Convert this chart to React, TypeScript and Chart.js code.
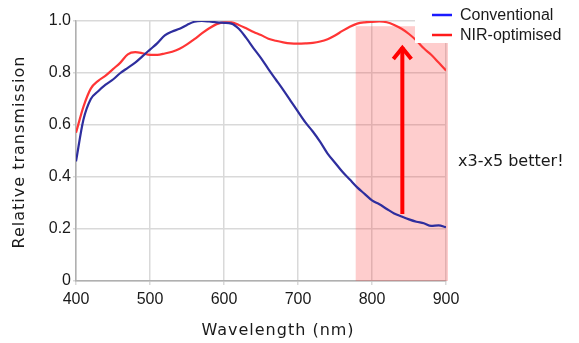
import React, { useEffect, useRef } from "react";
import { Chart, registerables } from "chart.js";

Chart.register(...registerables);

const wavelengths = [
  400, 410, 420, 430, 440, 450, 460, 470, 480, 490,
  500, 510, 520, 530, 540, 550, 560, 570, 580, 590,
  600, 610, 620, 630, 640, 650, 660, 670, 680, 690,
  700, 710, 720, 730, 740, 750, 760, 770, 780, 790,
  800, 810, 820, 830, 840, 850, 860, 870, 880, 890, 900,
];

const conventional = [
  0.46, 0.62, 0.70, 0.73, 0.755, 0.775, 0.80, 0.82, 0.84, 0.865,
  0.89, 0.915, 0.945, 0.96, 0.97, 0.985, 0.997, 1.0, 0.998, 0.995,
  0.993, 0.99, 0.97, 0.935, 0.895, 0.857, 0.815, 0.775, 0.735, 0.693,
  0.651, 0.61, 0.575, 0.535, 0.49, 0.455, 0.42, 0.39, 0.36, 0.335,
  0.31, 0.295, 0.277, 0.26, 0.248, 0.237, 0.228, 0.222, 0.212, 0.214, 0.207,
];

const nirOptimised = [
  0.57, 0.67, 0.74, 0.77, 0.79, 0.815, 0.84, 0.872, 0.88, 0.876,
  0.87, 0.87, 0.875, 0.882, 0.893, 0.91, 0.93, 0.952, 0.972, 0.988,
  0.995, 0.995, 0.985, 0.972, 0.958, 0.946, 0.932, 0.924, 0.918, 0.914,
  0.913, 0.914, 0.916, 0.921, 0.93, 0.944, 0.962, 0.978, 0.99, 0.995,
  0.997, 0.998, 0.995, 0.985, 0.97, 0.95, 0.925, 0.895, 0.87, 0.84, 0.81,
];

const seriesNames = ["Conventional", "NIR-optimised"];
const xTicks = [400, 500, 600, 700, 800, 900];
const yTicks = [0, 0.2, 0.4, 0.6, 0.8, 1.0];

const shadeStart = 778;
const shadeEnd = 900;
const shadeTop = 0.98;
const arrowX = 841;
const arrowFrom = 0.258;
const arrowTo = 0.908;
const annotationText = "x3-x5 better!";
const xTitle = "Wavelength (nm)";
const yTitle = "Relative transmission";

const lineColors = ["#2e2e9e", "#ff3535"];
const legendColors = ["#1a1aff", "#ff1a1a"];

export default function App() {
  const ref = useRef<HTMLCanvasElement | null>(null);

  useEffect(() => {
    document.body.style.margin = "0";
    document.body.style.overflow = "hidden";
    const canvas = ref.current;
    if (!canvas) return;

    const overlay = {
      id: "overlay",
      beforeDatasetsDraw(chart: any) {
        const { ctx, scales } = chart;
        const x = scales.x;
        const y = scales.y;
        ctx.save();
        ctx.fillStyle = "rgba(250, 55, 55, 0.25)";
        const x0 = x.getPixelForValue(shadeStart);
        const x1 = x.getPixelForValue(shadeEnd) + 2;
        const y0 = y.getPixelForValue(shadeTop);
        const y1 = y.getPixelForValue(0);
        ctx.fillRect(x0, y0, x1 - x0, y1 - y0);
        ctx.restore();
      },
      afterDatasetsDraw(chart: any) {
        const { ctx, scales } = chart;
        const x = scales.x;
        const y = scales.y;
        const ax = x.getPixelForValue(arrowX);
        const yb = y.getPixelForValue(arrowFrom);
        const yt = y.getPixelForValue(arrowTo);
        ctx.save();
        ctx.strokeStyle = "#ff0000";
        ctx.lineWidth = 4;
        ctx.lineCap = "butt";
        ctx.beginPath();
        ctx.moveTo(ax, yb);
        ctx.lineTo(ax, yt + 2);
        ctx.stroke();
        ctx.lineJoin = "miter";
        ctx.beginPath();
        ctx.moveTo(ax - 9, yt + 14);
        ctx.lineTo(ax, yt + 3);
        ctx.lineTo(ax + 9, yt + 14);
        ctx.stroke();
        ctx.restore();
      },
      afterDraw(chart: any) {
        const { ctx } = chart;
        ctx.save();
        ctx.fillStyle = "#ffffff";
        ctx.fillRect(415, 0, 164, 43);
        const rows = [15, 35];
        seriesNames.forEach((name, i) => {
          ctx.strokeStyle = legendColors[i];
          ctx.lineWidth = 2.5;
          ctx.beginPath();
          ctx.moveTo(432, rows[i]);
          ctx.lineTo(452, rows[i]);
          ctx.stroke();
          ctx.fillStyle = "#1a1a1a";
          ctx.font = "16px 'Liberation Sans', Arial, sans-serif";
          ctx.textAlign = "left";
          ctx.textBaseline = "middle";
          ctx.fillText(name, 460, rows[i] + 1);
        });
        ctx.font = "16px 'DejaVu Sans', sans-serif";
        ctx.fillStyle = "#1a1a1a";
        ctx.textAlign = "left";
        ctx.textBaseline = "middle";
        ctx.fillText(annotationText, 458, 162);
        (ctx as any).letterSpacing = "1px";
        ctx.textAlign = "center";
        ctx.fillText(xTitle, 278, 331);
        ctx.translate(20, 152);
        ctx.rotate(-Math.PI / 2);
        ctx.fillText(yTitle, 0, 0);
        ctx.restore();
      },
    };

    const chart = new Chart(canvas, {
      type: "line",
      data: {
        labels: wavelengths,
        datasets: [
          {
            label: seriesNames[0],
            data: wavelengths.map((w, i) => ({ x: w, y: conventional[i] })),
            borderColor: lineColors[0],
            borderWidth: 2.2,
            pointRadius: 0,
            cubicInterpolationMode: "monotone",
          },
          {
            label: seriesNames[1],
            data: wavelengths.map((w, i) => ({ x: w, y: nirOptimised[i] })),
            borderColor: lineColors[1],
            borderWidth: 2.2,
            pointRadius: 0,
            cubicInterpolationMode: "monotone",
          },
        ],
      },
      options: {
        responsive: false,
        animation: false,
        layout: { padding: { top: 21, right: 133, left: 0, bottom: 0 } },
        plugins: {
          legend: { display: false },
          tooltip: { enabled: false },
        },
        scales: {
          x: {
            type: "linear",
            min: xTicks[0],
            max: xTicks[xTicks.length - 1],
            afterBuildTicks: (scale: any) => {
              scale.ticks = xTicks.map((v) => ({ value: v }));
            },
            afterFit: (scale: any) => {
              scale.height = 62;
            },
            ticks: {
              color: "#1a1a1a",
              font: { family: "'Liberation Sans', Arial, sans-serif", size: 16 },
              padding: 5,
              maxRotation: 0,
              callback: (v: any) => String(v),
            },
            grid: { color: "#d9d9d9", lineWidth: 1.5, tickLength: 4 },
            border: { color: "#b0b0b0", width: 1.5 },
          },
          y: {
            min: yTicks[0],
            max: yTicks[yTicks.length - 1],
            afterBuildTicks: (scale: any) => {
              scale.ticks = yTicks.map((v) => ({ value: v }));
            },
            afterFit: (scale: any) => {
              scale.width = 76;
            },
            ticks: {
              color: "#1a1a1a",
              font: { family: "'Liberation Sans', Arial, sans-serif", size: 16 },
              padding: 2,
              callback: (v: any) => (Number(v) === 0 ? "0" : Number(v).toFixed(1)),
            },
            grid: { color: "#d9d9d9", lineWidth: 1.5, tickLength: 3 },
            border: { color: "#b0b0b0", width: 1.5 },
          },
        },
      },
      plugins: [overlay],
    } as any);

    return () => chart.destroy();
  }, []);

  return (
    <div style={{ width: 579, height: 343, background: "#fff" }}>
      <canvas ref={ref} width={579} height={343} />
    </div>
  );
}
